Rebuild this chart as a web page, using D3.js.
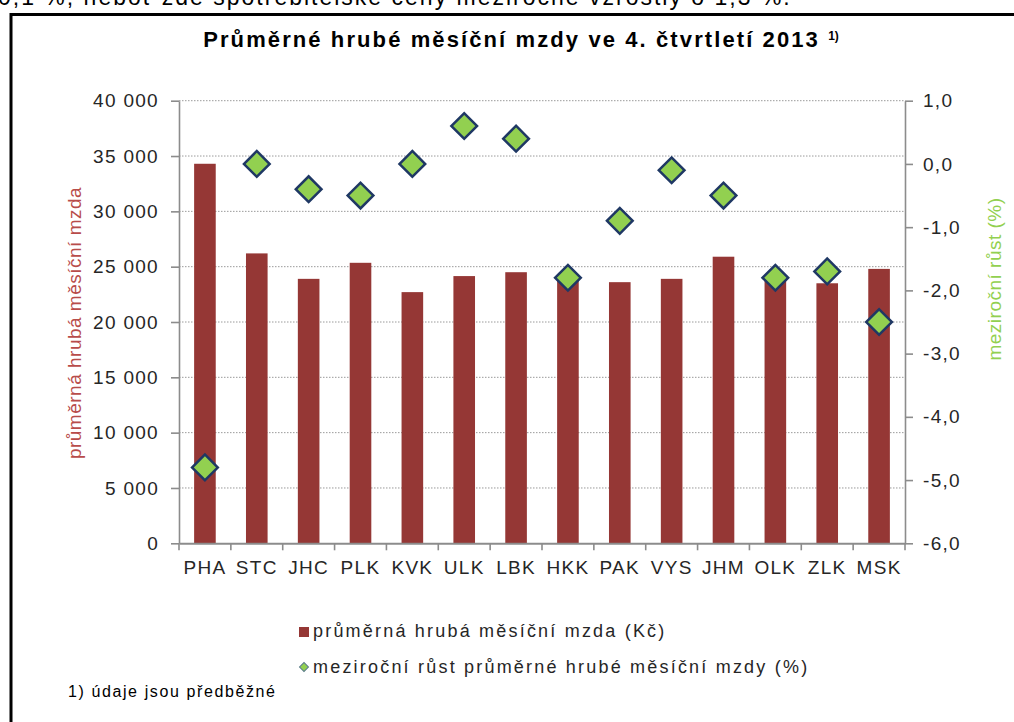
<!DOCTYPE html>
<html>
<head>
<meta charset="utf-8">
<script src="https://cdn.jsdelivr.net/npm/d3@7"></script>
<style>
  body { margin: 0; background: #fff; }
  svg text { font-family: "Liberation Sans", Arial, sans-serif; }
  .axis text { font-size: 19px; fill: #262626; letter-spacing: 1.3px; }
  .axis path, .axis line { stroke: #8c8c8c; }
  .grid line { stroke: #9a9a9a; stroke-dasharray: 1.5,1.5; }
</style>
</head>
<body>
<div id="chart"></div>
<script>
// data
const categories = ["PHA", "STC", "JHC", "PLK", "KVK", "ULK", "LBK", "HKK", "PAK", "VYS", "JHM", "OLK", "ZLK", "MSK"];
const wages = [34300, 26200, 23900, 25350, 22700, 24150, 24500, 23900, 23600, 23900, 25900, 23800, 23500, 24800];
const growth = [-4.8, 0.0, -0.4, -0.5, 0.0, 0.6, 0.4, -1.8, -0.9, -0.1, -0.5, -1.8, -1.7, -2.5];
const wageTicks = [0, 5000, 10000, 15000, 20000, 25000, 30000, 35000, 40000];
const growthTicks = [1, 0, -1, -2, -3, -4, -5, -6];

const barColor = "#953735",
    diamondFill = "#92d050",
    diamondStroke = "#1f3864";

// plot area
const margin = {top: 100.7, right: 109, bottom: 178.7, left: 179},
    width = 1014 - margin.left - margin.right,
    height = 722 - margin.top - margin.bottom;

const locale = d3.formatLocale({decimal: ",", thousands: "\u00a0", grouping: [3], currency: ["", ""], minus: "-"});
const fmtWage = locale.format(",d"),
    fmtGrowth = locale.format(".1f");

const root = d3.select("#chart")
  .append("svg")
    .attr("width", 1014)
    .attr("height", 722);

// clipped sentence from the page above the chart
root.append("text")
    .attr("x", -2)
    .attr("y", 5)
    .style("font-size", "23px")
    .style("letter-spacing", "2px")
    .attr("fill", "#000")
    .text("0,1 %, neboť zde spotřebitelské ceny meziročně vzrostly o 1,3 %.");

// frame
root.append("path")
    .attr("d", "M11,722V14.5H1014")
    .attr("fill", "none")
    .attr("stroke", "#000")
    .attr("stroke-width", 3);

// title
const title = root.append("text")
    .attr("x", 521)
    .attr("y", 47)
    .attr("text-anchor", "middle")
    .style("font-size", "22px")
    .style("font-weight", "bold")
    .style("letter-spacing", "2.1px")
    .attr("fill", "#000")
    .text("Průměrné hrubé měsíční mzdy ve 4. čtvrtletí 2013 ");
title.append("tspan")
    .attr("dy", -7)
    .style("font-size", "12px")
    .style("letter-spacing", "0px")
    .text("1)");

const svg = root.append("g")
    .attr("transform", `translate(${margin.left},${margin.top})`);

const x = d3.scaleBand()
  .domain(categories)
  .range([0, width])
  .padding(0);

const yL = d3.scaleLinear()
  .domain([0, 40000])
  .range([height, 0]);

const yR = d3.scaleLinear()
  .domain([-6, 1])
  .range([height, 0]);

// gridlines
svg.append("g")
    .attr("class", "grid")
  .selectAll("line")
  .data(wageTicks.slice(1))
  .join("line")
    .attr("x1", 0)
    .attr("x2", width)
    .attr("y1", d => yL(d))
    .attr("y2", d => yL(d));

// bars
const barW = x.bandwidth() / 2.4;
svg.append("g")
  .selectAll("rect")
  .data(categories)
  .join("rect")
    .attr("x", (d, i) => x(d) + (x.bandwidth() - barW) / 2)
    .attr("y", (d, i) => yL(wages[i]))
    .attr("width", barW)
    .attr("height", (d, i) => height - yL(wages[i]))
    .attr("fill", barColor);

// left axis
svg.append("g")
    .attr("class", "axis")
    .call(d3.axisLeft(yL)
      .tickValues(wageTicks)
      .tickSize(8)
      .tickPadding(12)
      .tickSizeOuter(0)
      .tickFormat(fmtWage))
    .call(g => g.selectAll("path, line").attr("stroke-width", 1.6));

// right axis
svg.append("g")
    .attr("class", "axis")
    .attr("transform", `translate(${width},0)`)
    .call(d3.axisRight(yR)
      .tickValues(growthTicks)
      .tickSize(8)
      .tickPadding(10)
      .tickSizeOuter(0)
      .tickFormat(fmtGrowth))
    .call(g => g.selectAll("path, line").attr("stroke-width", 1.6));

// bottom axis: labels at band centres, ticks at band edges
svg.append("g")
    .attr("class", "axis")
    .attr("transform", `translate(0,${height})`)
    .call(d3.axisBottom(x).tickSize(0).tickPadding(17))
    .call(g => g.select(".domain").attr("stroke-width", 2))
    .call(g => g.selectAll(".sep")
      .data(d3.range(categories.length + 1))
      .join("line")
        .attr("class", "sep")
        .attr("x1", i => i < categories.length ? x(categories[i]) : width)
        .attr("x2", i => i < categories.length ? x(categories[i]) : width)
        .attr("y1", 0)
        .attr("y2", 7)
        .attr("stroke", "#8c8c8c")
        .attr("stroke-width", 1.6));

// growth diamonds
const diamond = d3.symbol(d3.symbolSquare, 330);
svg.append("g")
  .selectAll("path")
  .data(categories)
  .join("path")
    .attr("transform", (d, i) => `translate(${x(d) + x.bandwidth() / 2},${yR(growth[i])}) rotate(45)`)
    .attr("d", diamond)
    .attr("fill", diamondFill)
    .attr("stroke", diamondStroke)
    .attr("stroke-width", 2.5);

// axis titles
root.append("text")
    .attr("transform", "translate(81,323) rotate(-90)")
    .attr("text-anchor", "middle")
    .style("font-size", "19px")
    .style("letter-spacing", "0.5px")
    .attr("fill", "#b84c4a")
    .text("průměrná hrubá měsíční mzda");

root.append("text")
    .attr("transform", "translate(1001,279) rotate(-90)")
    .attr("text-anchor", "middle")
    .style("font-size", "19px")
    .style("letter-spacing", "0.5px")
    .attr("fill", diamondFill)
    .text("meziroční růst (%)");

// legend
const legend = root.append("g")
    .style("font-size", "18px")
    .style("letter-spacing", "2.2px");

legend.append("rect")
    .attr("x", 299)
    .attr("y", 627)
    .attr("width", 10)
    .attr("height", 10)
    .attr("fill", barColor);
legend.append("text")
    .attr("x", 313)
    .attr("y", 637)
    .attr("fill", "#262626")
    .text("průměrná hrubá měsíční mzda (Kč)");

legend.append("path")
    .attr("transform", "translate(304,667) rotate(45)")
    .attr("d", d3.symbol(d3.symbolSquare, 40))
    .attr("fill", diamondFill)
    .attr("stroke", "#5a7a8c")
    .attr("stroke-width", 1);
legend.append("text")
    .attr("x", 313)
    .attr("y", 673)
    .attr("fill", "#262626")
    .text("meziroční růst průměrné hrubé měsíční mzdy (%)");

// footnote
root.append("text")
    .attr("x", 68)
    .attr("y", 697)
    .style("font-size", "16px")
    .style("letter-spacing", "1.6px")
    .attr("fill", "#000")
    .text("1) údaje jsou předběžné");
</script>
</body>
</html>
